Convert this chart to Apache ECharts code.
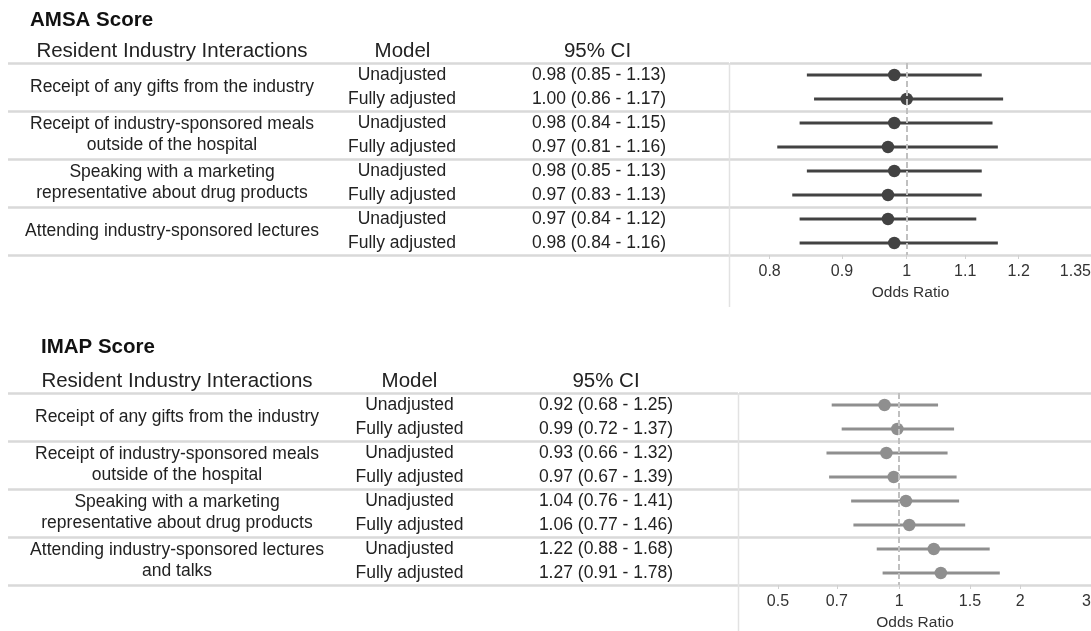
<!DOCTYPE html>
<html>
<head>
<meta charset="utf-8">
<script src="https://cdn.jsdelivr.net/npm/echarts@6/dist/echarts.min.js"></script>
<style>
html,body{margin:0;padding:0;background:#fff;}
#c{width:1091px;height:631px;}
</style>
</head>
<body>
<div id="c"></div>
<script>
// ---------- data ----------
const modelLabels = ['Unadjusted','Fully adjusted','Unadjusted','Fully adjusted','Unadjusted','Fully adjusted','Unadjusted','Fully adjusted'];
const groupsAMSA = [
  'Receipt of any gifts from the industry',
  'Receipt of industry-sponsored meals\noutside of the hospital',
  'Speaking with a marketing\nrepresentative about drug products',
  'Attending industry-sponsored lectures'
];
const groupsIMAP = [
  'Receipt of any gifts from the industry',
  'Receipt of industry-sponsored meals\noutside of the hospital',
  'Speaking with a marketing\nrepresentative about drug products',
  'Attending industry-sponsored lectures\nand talks'
];
const amsaOR = [0.98, 1.00, 0.98, 0.97, 0.98, 0.97, 0.97, 0.98];
const amsaLo = [0.85, 0.86, 0.84, 0.81, 0.85, 0.83, 0.84, 0.84];
const amsaHi = [1.13, 1.17, 1.15, 1.16, 1.13, 1.13, 1.12, 1.16];
const imapOR = [0.92, 0.99, 0.93, 0.97, 1.04, 1.06, 1.22, 1.27];
const imapLo = [0.68, 0.72, 0.66, 0.67, 0.76, 0.77, 0.88, 0.91];
const imapHi = [1.25, 1.37, 1.32, 1.39, 1.41, 1.46, 1.68, 1.78];
const amsaTicks = [0.8, 0.9, 1, 1.1, 1.2, 1.35];
const imapTicks = [0.5, 0.7, 1, 1.5, 2, 3];

// ---------- layout / style ----------
const L = Math.log10;
const FONT = '"Liberation Sans", Arial, Helvetica, sans-serif';
const TXT = '#222222';
const SPLIT = '#d9d9d9';
const sections = [
  {title:'AMSA Score', titleX:30, titleY:20, headY:51, top:63, tableW:721, plotLeft:730,
   groupX:172, modelX:402, ciX:599, modelHX:402.5, ciHX:597.5,
   groups:groupsAMSA, or:amsaOR, lo:amsaLo, hi:amsaHi, ticks:amsaTicks,
   min:0.75, max:1.35, color:'#424242', borderBottom:307},
  {title:'IMAP Score', titleX:41, titleY:347, headY:381, top:393, tableW:730, plotLeft:739,
   groupX:177, modelX:409.5, ciX:606, modelHX:409.5, ciHX:606,
   groups:groupsIMAP, or:imapOR, lo:imapLo, hi:imapHi, ticks:imapTicks,
   min:0.4, max:3, color:'#8f8f8f', borderBottom:631}
];
const H = 192;

const grid = [], xAxis = [], yAxis = [], series = [], graphic = [];
function fmtCI(o, l, h){ return o.toFixed(2) + ' (' + l.toFixed(2) + ' - ' + h.toFixed(2) + ')'; }

sections.forEach(function(s){
  const gt = grid.length;
  grid.push({left:8, top:s.top, width:s.tableW, height:H, outerBoundsMode:'none', containLabel:false});
  const gp = grid.length;
  grid.push({left:s.plotLeft, top:s.top, right:0, height:H, outerBoundsMode:'none', containLabel:false});

  // table grid axes (only for horizontal rules)
  xAxis.push({type:'value', gridIndex:gt, show:false, min:0, max:1});
  yAxis.push({type:'category', gridIndex:gt, data:s.groups, inverse:true,
    axisLine:{show:false}, axisTick:{show:false}, axisLabel:{show:false},
    splitLine:{show:true, lineStyle:{color:SPLIT, width:2.5}}});

  // plot x axis (log-scaled odds ratio)
  const tickPos = s.ticks.map(function(t){ return L(t); });
  const xp = xAxis.length;
  xAxis.push({type:'value', gridIndex:gp, min:L(s.min), max:L(s.max),
    axisLine:{show:false}, splitLine:{show:false},
    axisTick:{show:true, customValues:tickPos, length:4, lineStyle:{color:'#d0d0d0', width:1}},
    axisLabel:{customValues:tickPos, alignMaxLabel:'right', margin:9, fontSize:16, color:'#333', fontFamily:FONT,
      formatter:function(v){ return String(parseFloat(Math.pow(10, v).toFixed(2))); }},
    name:'Odds Ratio', nameLocation:'middle', nameGap:30,
    nameTextStyle:{fontSize:15.5, color:'#333', fontFamily:FONT}});

  // row axis (model labels) - used by the series
  const yRow = yAxis.length;
  yAxis.push({type:'category', gridIndex:gp, data:modelLabels, inverse:true, position:'left',
    axisLine:{show:false}, axisTick:{show:false}, splitLine:{show:false},
    axisLabel:{interval:0, align:'center', margin:s.plotLeft - s.modelX, fontSize:17.5, color:TXT, fontFamily:FONT}});
  // CI label axis
  const ciLabels = s.or.map(function(o, i){ return fmtCI(o, s.lo[i], s.hi[i]); });
  yAxis.push({type:'category', gridIndex:gp, data:ciLabels, inverse:true, position:'left',
    axisLine:{show:false}, axisTick:{show:false}, splitLine:{show:false},
    axisLabel:{interval:0, align:'center', margin:s.plotLeft - s.ciX, fontSize:17.5, color:TXT, fontFamily:FONT}});
  // group axis (labels + rules in plot)
  yAxis.push({type:'category', gridIndex:gp, data:s.groups, inverse:true, position:'left',
    axisLine:{show:false}, axisTick:{show:false},
    splitLine:{show:true, lineStyle:{color:SPLIT, width:2.5}},
    axisLabel:{interval:0, align:'center', margin:s.plotLeft - s.groupX, fontSize:17.5, lineHeight:21, color:TXT, fontFamily:FONT}});

  const color = s.color;
  series.push({type:'custom', xAxisIndex:xp, yAxisIndex:yRow, z:2, silent:true,
    data:s.lo.map(function(l, i){ return [L(l), L(s.hi[i]), i]; }),
    encode:{x:[0,1], y:2},
    renderItem:function(params, api){
      const a = api.coord([api.value(0), api.value(2)]);
      const b = api.coord([api.value(1), api.value(2)]);
      return {type:'line', shape:{x1:a[0], y1:a[1], x2:b[0], y2:b[1]}, style:{stroke:color, lineWidth:3}};
    }});
  series.push({type:'scatter', xAxisIndex:xp, yAxisIndex:yRow, z:3, silent:true,
    symbol:'circle', symbolSize:12.5, itemStyle:{color:color, opacity:1},
    data:s.or.map(function(o, i){ return [L(o), i]; }),
    markLine:{silent:true, symbol:'none', label:{show:false}, animation:false,
      lineStyle:{type:[6,3], color:'#c0c0c0', width:2},
      data:[{xAxis:L(1)}]}});

  // texts
  graphic.push({type:'text', x:s.titleX, y:s.titleY, style:{text:s.title, font:'bold 20.5px ' + FONT, fill:'#111', textAlign:'left', textVerticalAlign:'middle'}});
  graphic.push({type:'text', x:s.groupX, y:s.headY, style:{text:'Resident Industry Interactions', font:'20.5px ' + FONT, fill:TXT, textAlign:'center', textVerticalAlign:'middle'}});
  graphic.push({type:'text', x:s.modelHX, y:s.headY, style:{text:'Model', font:'20.5px ' + FONT, fill:TXT, textAlign:'center', textVerticalAlign:'middle'}});
  graphic.push({type:'text', x:s.ciHX, y:s.headY, style:{text:'95% CI', font:'20.5px ' + FONT, fill:TXT, textAlign:'center', textVerticalAlign:'middle'}});
  graphic.push({type:'line', shape:{x1:s.plotLeft - 0.5, y1:s.top, x2:s.plotLeft - 0.5, y2:s.borderBottom}, style:{stroke:'#e2e2e2', lineWidth:1.5}, z:1});
});

const chart = echarts.init(document.getElementById('c'), null, {renderer:'canvas'});
chart.setOption({
  animation:false,
  backgroundColor:'#ffffff',
  grid:grid, xAxis:xAxis, yAxis:yAxis, series:series, graphic:graphic
});
</script>
</body>
</html>
